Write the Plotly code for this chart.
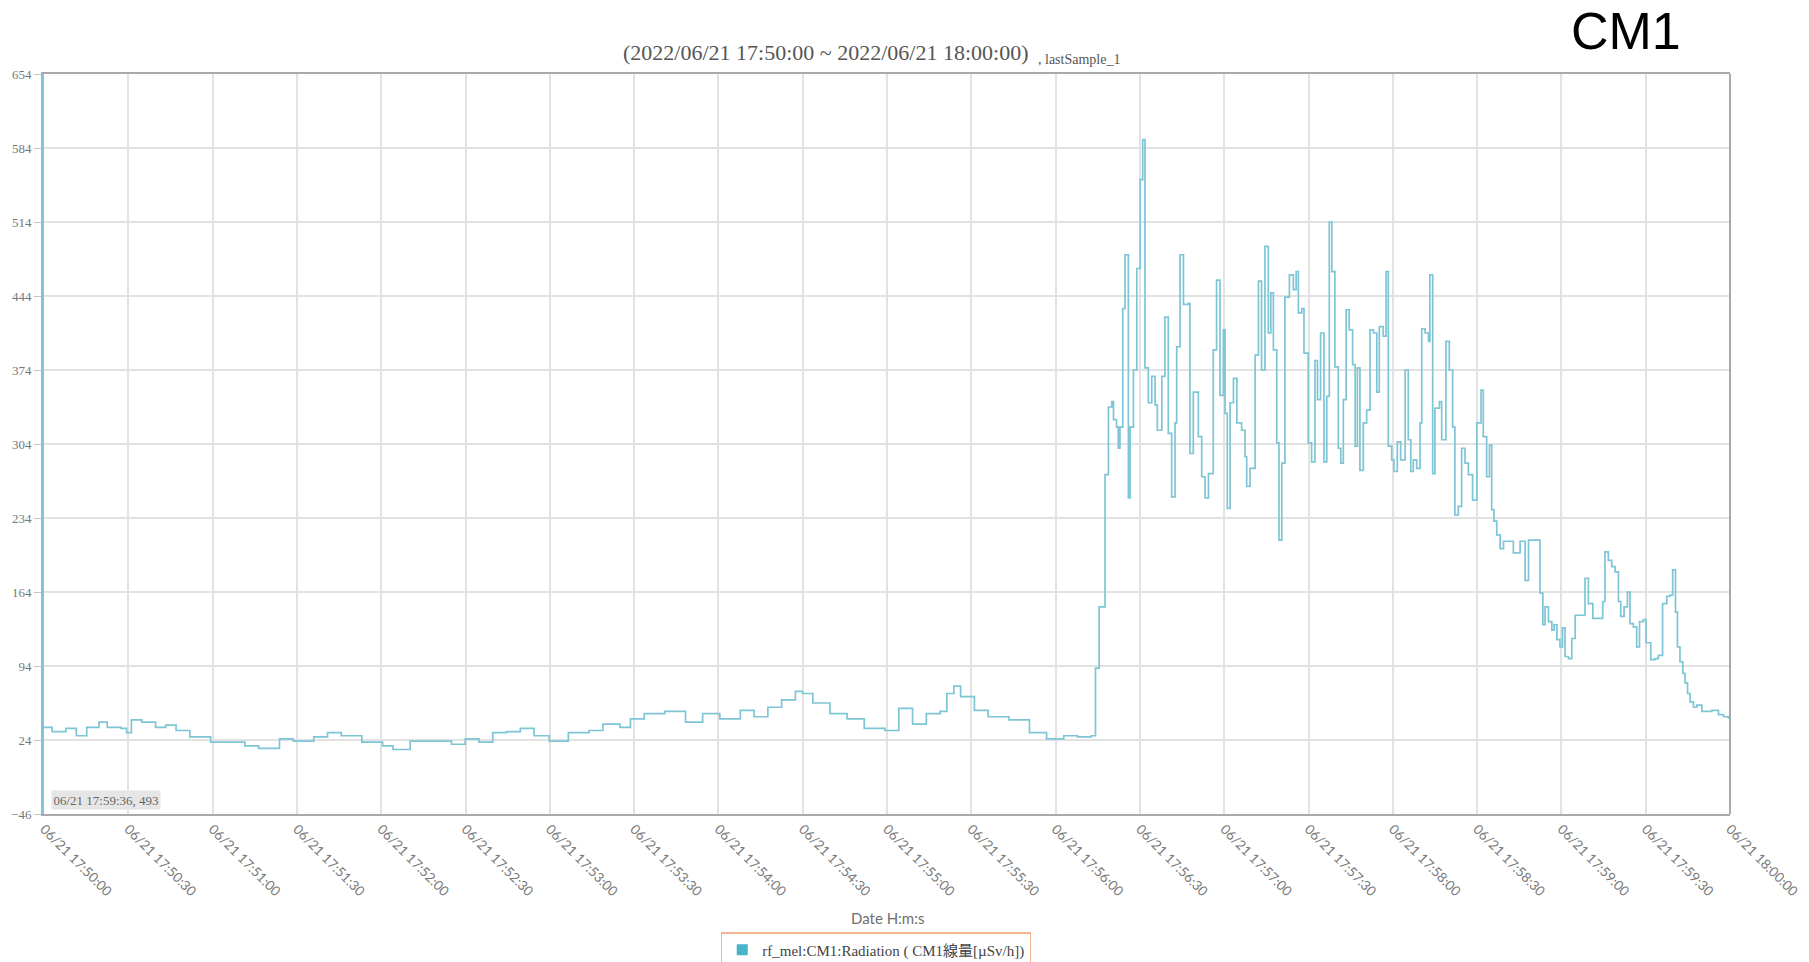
import pandas as pd
import plotly.graph_objects as go

# Sample times, seconds after 2022/06/21 17:50:00
offset_s = [
    0, 2.9, 7.8, 11.5, 15.2, 19.6, 22.5, 27.4, 29.4, 31.1, 34.8, 39.7, 43.3, 47, 51.9,
    59.3, 66.6, 71.5, 76.4, 83.8, 88.7, 96, 100.9, 105.8, 113.1, 120.5, 124.2, 130.3,
    137.6, 145, 149.9, 154.8, 159.7, 164.6, 169.5, 174.4, 179.8, 186.6, 194, 198.9,
    205, 208.7, 213.6, 220.9, 228.3, 234.4, 240.5, 247.8, 252.7, 257.6, 262.5, 267.4,
    269.9, 273.6, 279.7, 285.8, 291.9, 299.3, 304.2, 309.1, 314, 318.9, 321.3, 323.8,
    326.2, 331.1, 336, 343.4, 350.7, 356.8, 362.9, 367.8, 372.7,
    374.2, 375.5, 377.6, 378.8, 380.0, 380.6, 381.7, 382.3, 382.9, 383.9, 384.7, 385.9,
    386.5, 387.7, 388.9, 390.1, 391.0, 391.8, 393.0, 394.2, 395.4, 396.2, 397.8, 398.9,
    400.1, 401.3, 402.5, 403.1, 404.3, 405.5, 407.3, 407.8, 409.0, 410.8, 412.0, 413.2,
    414.4, 416.1, 417.3, 418.5, 419.7, 420.3, 421.1, 422.1, 423.3, 424.5, 426.2, 427.4,
    428.0, 429.2, 431.0, 432.2, 433.3, 434.5, 435.7, 436.6, 437.5, 438.7, 439.5, 440.5,
    441.6, 443.2, 444.6, 445.6, 446.4, 447.6, 448.4, 449.9, 451.1, 452.3, 453.2, 454.3,
    455.5, 456.5, 457.4, 458.3, 459.4, 460.6, 461.5, 462.4, 463.4, 464.5, 465.7, 466.6,
    467.4, 468.3, 469.5, 470.7, 471.9, 473.1, 474.3, 475.2, 476.6, 477.6, 478.4, 479.6,
    480.4, 481.6, 482.8, 484.4, 485.5, 486.4, 487.3, 488.5, 489.7, 490.3, 491.5, 492.7,
    493.2, 494.2, 495.0, 496.6, 497.4, 498.9, 500.1, 501.3, 502.1, 503.3, 504.5, 505.7,
    506.9, 508.4, 509.9, 511.4, 512.2, 513.4, 514.4, 515.2, 516.0, 517.0, 518.2, 519.4,
    522.9, 525.3, 527.1, 528.3, 532.4, 533.4, 534.2, 535.4, 536.6, 537.4, 538.4, 539.5,
    540.4, 541.3, 542.5, 543.7, 544.9, 548.4, 549.6, 551.2, 554.7, 555.5, 556.7, 557.9,
    559.1, 560.3, 561.1, 562.3, 563.5, 564.4, 565.6, 566.8, 567.8, 569.2, 570.1, 571.8,
    573.3, 574.5, 576.0, 577.5, 578.7, 579.6, 580.6, 581.3, 582.2, 583.2, 584.0, 584.9,
    585.8, 587.0, 588.2, 590.0, 593.5, 595.9, 597.7, 599.4, 600,
]

# Dose rate readings in µSv/h
dose_rate = [
    36, 32, 35, 28, 36, 41, 36, 35, 31, 43, 41, 36, 38, 33, 27,
    22, 22, 18.5, 16, 25, 23, 27, 31, 28, 22, 18.5, 15, 23,
    23, 20, 25, 22, 31, 32, 35, 28, 23, 31, 33, 39,
    36, 44, 49, 51, 41, 49, 44, 52, 46, 55, 62, 70,
    68, 59, 49, 44, 35, 33, 54, 39, 49, 51, 68, 75,
    65, 52, 46, 43, 31, 25, 28, 27, 28,
    92, 150, 275, 339, 344, 327, 320, 300, 320, 432, 483, 253,
    320, 374, 470, 554, 592, 376, 343, 368, 341, 317, 368, 424,
    314, 254, 324, 396, 483, 436, 437, 295, 353, 311, 273, 253,
    276, 393, 459, 350, 412, 333, 243, 343, 366, 324, 317, 292,
    264, 281, 388, 458, 374, 491, 409, 447, 393, 305, 213, 286,
    443, 464, 450, 467, 428, 432, 390, 305, 287, 383, 346, 409,
    287, 349, 514, 467, 377, 300, 286, 346, 431, 412, 379, 302,
    376, 279, 324, 336, 412, 409, 353, 415, 406, 467, 302, 289,
    278, 306, 289, 374, 308, 278, 289, 281, 324, 413, 409, 401,
    464, 276, 338, 344, 308, 401, 374, 320, 237, 245, 300, 286,
    275, 251, 324, 355, 311, 273, 303, 242, 231, 218, 205, 212,
    201, 212, 175, 213, 163, 133, 150, 136, 128, 133, 119, 112,
    130, 103, 101, 120, 142, 177, 153, 139, 155, 202, 194, 188,
    183, 155, 141, 150, 164, 134, 131, 112, 136, 138, 116, 100,
    101, 104, 153, 160, 161, 185, 145, 112, 98, 87, 78, 68,
    60, 55, 57, 51, 52, 48, 46, 45, 45,
]

y_ticks = [-46, 24, 94, 164, 234, 304, 374, 444, 514, 584, 654]

start = pd.Timestamp("2022-06-21 17:50:00")
end = pd.Timestamp("2022-06-21 18:00:00")
times = start + pd.to_timedelta(offset_s, unit="s")
x_ticks = pd.date_range(start, end, freq="30s")

LINE = "#7ec5d5"
GRID = "#e2e2e2"
FRAME = "#a9a9a9"
SERIF = "Liberation Serif, Noto Sans CJK JP"

fig = go.Figure()
fig.add_trace(go.Scatter(
    x=times, y=dose_rate, mode="lines", line=dict(color=LINE, width=1.7, shape="hv"),
    showlegend=False, hoverinfo="skip",
))
# legend entry drawn as a square swatch
fig.add_trace(go.Scatter(
    x=[None], y=[None], mode="markers",
    marker=dict(symbol="square", size=11, color="#49b3c7"),
    name="rf_mel:CM1:Radiation ( CM1線量[µSv/h])",
))

fig.update_layout(
    width=1809, height=962,
    margin=dict(l=44, r=79, t=74, b=148, autoexpand=False),
    paper_bgcolor="white", plot_bgcolor="white",
    showlegend=True,
    legend=dict(
        orientation="h", x=0.4935, xanchor="center", y=-0.160, yanchor="top",
        bordercolor="#f3b792", borderwidth=1.2, bgcolor="white",
        font=dict(family=SERIF, size=15, color="#444"),
    ),
    xaxis=dict(
        range=[start, end], tickvals=x_ticks,
        ticktext=[t.strftime("%m/%d %H:%M:%S") for t in x_ticks],
        tickangle=45, tickfont=dict(family="Lato", size=13.5, color="#7a7a7a"),
        showgrid=True, gridcolor=GRID, gridwidth=1.5,
        showline=True, linecolor=FRAME, linewidth=2, mirror=True,
        ticks="", zeroline=False,
    ),
    yaxis=dict(
        range=[-46, 654], tickvals=y_ticks,
        tickfont=dict(family=SERIF, size=13, color="#777"),
        showgrid=True, gridcolor=GRID, gridwidth=1.5,
        showline=True, linecolor=LINE, linewidth=3,
        ticks="outside", ticklen=7, tickcolor="#c4c4c4", tickwidth=1,
        zeroline=False,
    ),
    shapes=[dict(type="line", xref="paper", yref="paper", x0=1, x1=1, y0=0, y1=1,
                 line=dict(color=FRAME, width=2))],
    annotations=[
        dict(text="(2022/06/21 17:50:00 ~ 2022/06/21 18:00:00)", xref="paper", yref="paper",
             x=0.5848, y=1.0297, xanchor="right", yanchor="middle", showarrow=False,
             font=dict(family=SERIF, size=22, color="#555")),
        dict(text=", lastSample_1", xref="paper", yref="paper",
             x=0.5885, y=1.0200, xanchor="left", yanchor="middle", showarrow=False,
             font=dict(family=SERIF, size=14, color="#555")),
        dict(text="CM1", xref="paper", yref="paper", x=0.9383, y=1.058,
             xanchor="center", yanchor="middle", showarrow=False,
             font=dict(family="Liberation Sans", size=52, color="black")),
        dict(text="Date H:m:s", xref="paper", yref="paper", x=0.5, y=-0.1405,
             xanchor="center", yanchor="middle", showarrow=False,
             font=dict(family="Lato", size=15, color="#6f6f6f")),
        dict(text="06/21 17:59:36, 493", xref="paper", yref="paper", x=0.0042, y=0.019,
             xanchor="left", yanchor="middle", showarrow=False, bgcolor="#e6e6e6",
             borderpad=1.5, font=dict(family=SERIF, size=13, color="#666")),
    ],
)

fig.write_html("out.html")
